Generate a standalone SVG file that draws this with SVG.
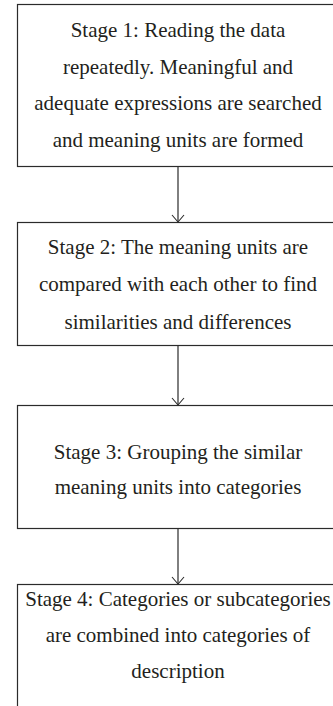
<svg xmlns="http://www.w3.org/2000/svg" width="333" height="706" viewBox="0 0 333 706">
<style>
.box{fill:#fff;stroke:#2b2b2b;stroke-width:1.2}
.t{font-family:"Liberation Serif","Times New Roman",serif;font-size:21px;fill:#231f20;text-anchor:middle}
.c{stroke:#2b2b2b;stroke-width:1.2;fill:none}
</style>
<defs>
<marker id="ah" markerWidth="10" markerHeight="14" refX="8" refY="7" orient="auto" markerUnits="userSpaceOnUse" viewBox="0 0 10 14">
<path d="M1,1 L8,7 L1,13" fill="none" stroke="#2b2b2b" stroke-width="1.1"/>
</marker>
</defs>
<rect width="333" height="706" fill="#fff"/>
<g id="connectors">
<line class="c" x1="178" y1="166" x2="178" y2="222" marker-end="url(#ah)"/>
<line class="c" x1="178" y1="346" x2="178" y2="405" marker-end="url(#ah)"/>
<line class="c" x1="178" y1="528" x2="178" y2="584" marker-end="url(#ah)"/>
</g>
<g id="stage1">
<rect class="box" x="17.5" y="4.5" width="330" height="162"/>
<text class="t" x="178" y="37">Stage 1: Reading the data</text>
<text class="t" x="178" y="73.5">repeatedly. Meaningful and</text>
<text class="t" x="178" y="110">adequate expressions are searched</text>
<text class="t" x="178" y="146.5">and meaning units are formed</text>
</g>
<g id="stage2">
<rect class="box" x="17.5" y="222.5" width="330" height="123"/>
<text class="t" x="178" y="253.5">Stage 2: The meaning units are</text>
<text class="t" x="178" y="291">compared with each other to find</text>
<text class="t" x="178" y="328.5">similarities and differences</text>
</g>
<g id="stage3">
<rect class="box" x="17.5" y="405.5" width="330" height="123"/>
<text class="t" x="178" y="459">Stage 3: Grouping the similar</text>
<text class="t" x="178" y="494">meaning units into categories</text>
</g>
<g id="stage4">
<rect class="box" x="17.5" y="584.5" width="330" height="140"/>
<text class="t" x="178" y="606">Stage 4: Categories or subcategories</text>
<text class="t" x="178" y="642">are combined into categories of</text>
<text class="t" x="178" y="678">description</text>
</g>
</svg>
